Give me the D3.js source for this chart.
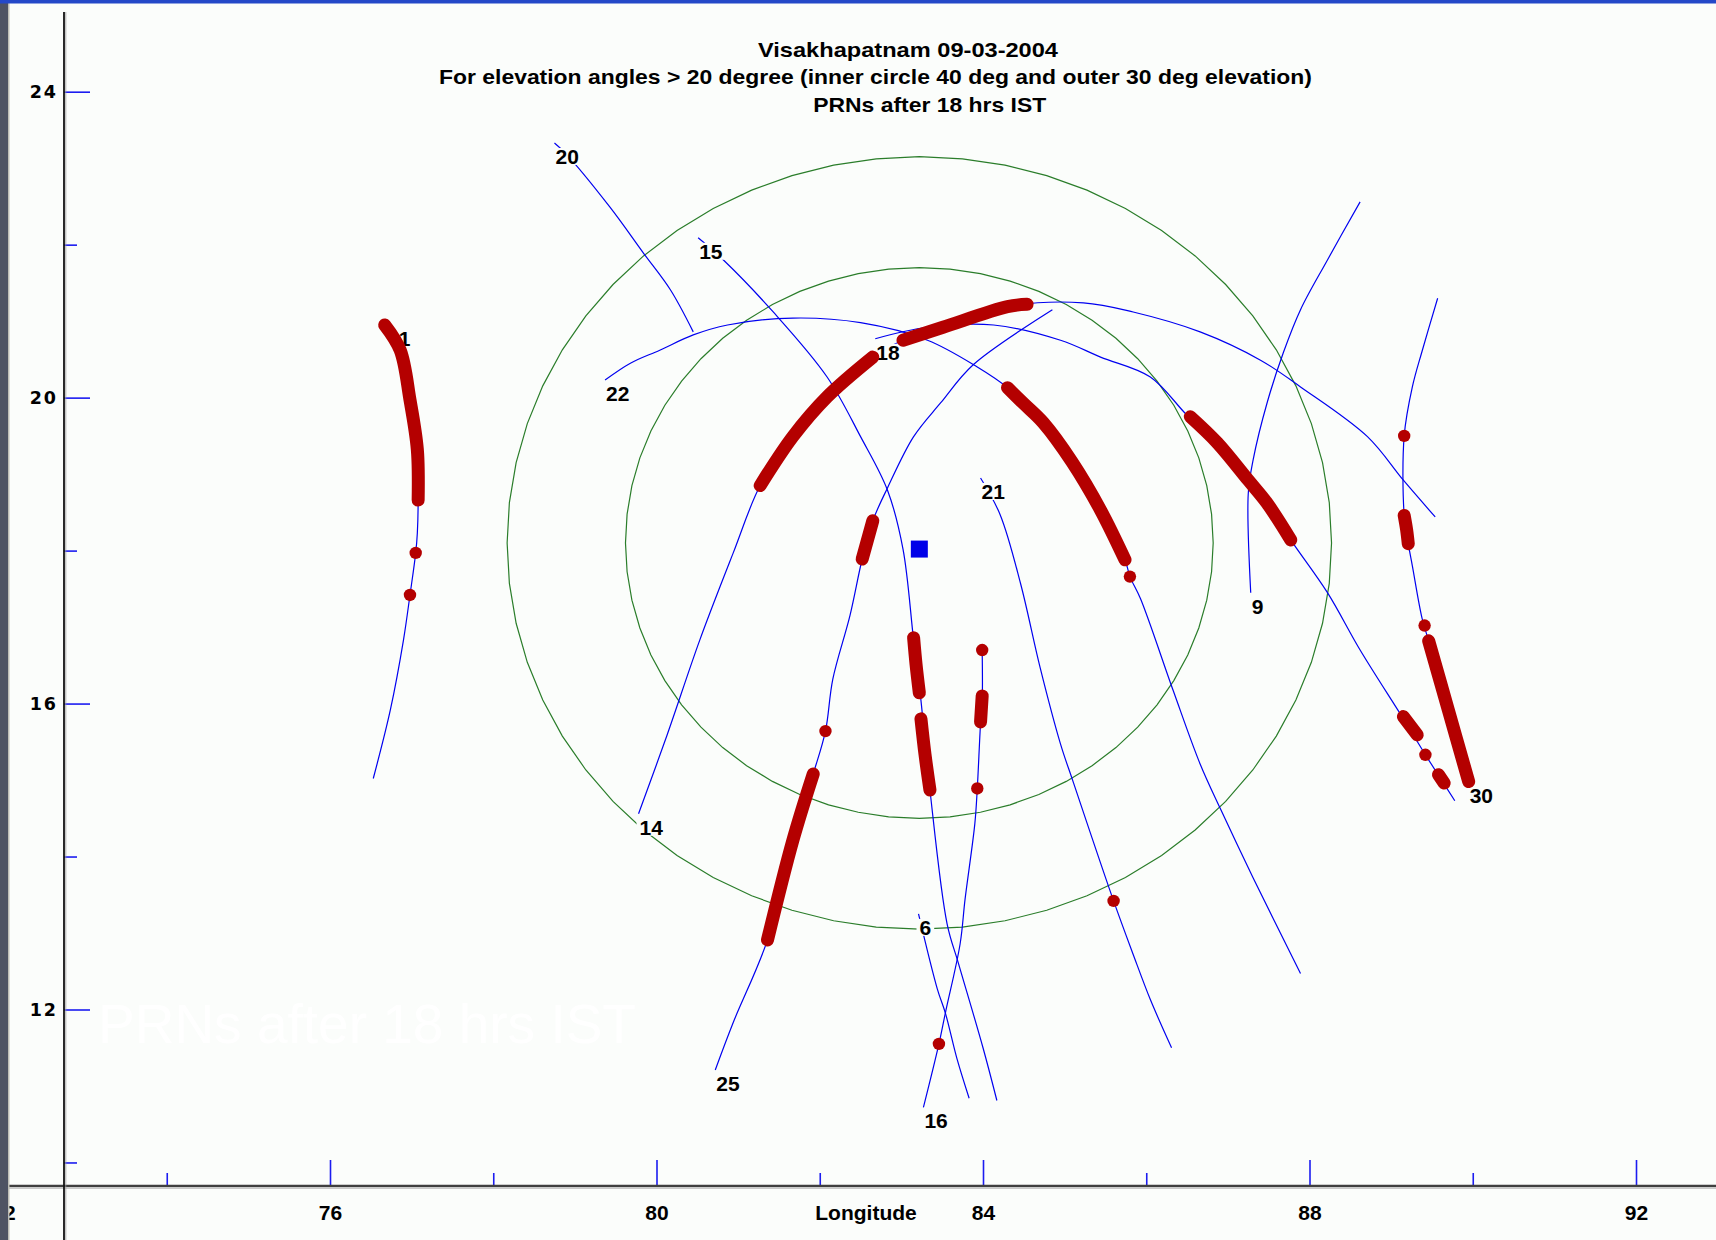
<!DOCTYPE html>
<html>
<head>
<meta charset="utf-8">
<script src="https://cdn.jsdelivr.net/npm/d3@7"></script>
<style>
  body { margin: 0; background: #fbfdfb; overflow: hidden; }
  svg { display: block; }
</style>
</head>
<body>
<svg id="chart" width="1716" height="1240"></svg>
<script>
// ---- axis ticks ----
var lonMajor = [72, 76, 80, 84, 88, 92];
var lonMinor = [74, 78, 82, 86, 90];
var latMajor = [12, 16, 20, 24];
var latMinor = [10, 14, 18, 22];

var titleLines = ["Visakhapatnam  09-03-2004",
  "For elevation angles > 20 degree (inner circle 40 deg and outer 30 deg elevation)",
  "PRNs after 18 hrs IST"];

// station and elevation circles (deg)
var station = [83.22, 18.02];
var circleCenter = [83.22, 18.1];
var circleRadii = [3.6, 5.05];

// ---- PRN tracks [lon, lat], first point is the labelled end ----
var track1 = [[76.67,20.95],[76.86,20.62],[76.98,19.97],[77.07,19.32],[77.08,18.66],[77.07,18.23],[77.05,17.97],[76.98,17.42],[76.90,16.83],[76.74,15.92],[76.53,15.02]];
var track20 = [[78.75,23.33],[78.88,23.20],[79.43,22.49],[79.84,21.89],[80.17,21.41],[80.45,20.86]];
var track15 = [[80.51,22.09],[80.82,21.80],[81.43,21.12],[82.09,20.27],[82.50,19.49],[82.83,18.79],[83.02,18.02],[83.15,16.83],[83.23,16.14],[83.35,14.87],[83.56,13.12],[83.70,12.60],[84.00,11.50],[84.17,10.81]];
var track22 = [[79.37,20.23],[79.68,20.45],[80.04,20.62],[80.45,20.82],[80.87,20.95],[81.67,21.04],[82.50,20.98],[83.32,20.75],[83.93,20.40],[84.30,20.13],[84.74,19.67],[85.09,19.16],[85.44,18.53],[85.74,17.88],[85.80,17.66],[85.93,17.37],[86.33,16.17],[86.66,15.21],[86.91,14.62],[87.31,13.72],[87.89,12.47]];
var track18 = [[82.68,20.77],[83.32,20.92],[84.13,20.95],[84.95,20.75],[85.44,20.53],[86.05,20.27],[86.50,19.77],[86.87,19.41],[87.25,18.92],[87.48,18.62],[87.77,18.14],[88.22,17.45],[88.62,16.70],[89.15,15.80],[89.42,15.33],[89.60,15.03],[89.78,14.73]];
var track14 = [[79.78,14.56],[80.13,15.59],[80.53,16.83],[80.94,17.97],[81.27,18.85],[81.67,19.49],[82.09,20.01],[82.65,20.53],[83.02,20.75],[83.51,20.92],[84.30,21.19],[85.23,21.24],[85.84,21.12],[86.66,20.86],[87.40,20.49],[87.89,20.14],[88.71,19.49],[89.15,18.92],[89.54,18.44]];
var track21 = [[83.97,18.95],[84.21,18.47],[84.46,17.57],[84.70,16.47],[84.95,15.47],[85.11,14.96],[85.60,13.42],[85.84,12.72],[86.05,12.13],[86.31,11.50]];
var track9 = [[87.28,17.45],[87.25,18.75],[87.31,19.19],[87.48,19.93],[87.68,20.59],[87.89,21.15],[88.22,21.80],[88.62,22.56]];
var track30 = [[89.95,14.98],[89.70,15.92],[89.46,16.82],[89.38,17.11],[89.26,17.80],[89.21,18.09],[89.16,18.46],[89.16,19.50],[89.26,20.14],[89.38,20.61],[89.57,21.30]];
var track6 = [[83.21,13.25],[83.44,12.27],[83.54,11.95],[83.68,11.36],[83.83,10.84]];
var track25 = [[80.72,11.21],[80.94,11.83],[81.36,12.91],[81.67,14.21],[81.92,15.08],[82.07,15.64],[82.16,16.32],[82.37,17.15],[82.52,17.89],[82.65,18.39],[82.83,18.82],[83.15,19.49],[83.48,19.93],[83.88,20.43],[84.85,21.15]];
var track16 = [[83.27,10.72],[83.46,11.55],[83.54,11.96],[83.72,12.86],[83.78,13.44],[83.90,14.43],[83.93,14.89],[83.97,15.74],[83.99,16.01],[83.99,16.70]];

// ---- observed (red) pieces of each track ----
var obs1 = [[[76.67,20.95],[76.86,20.62],[76.98,19.97],[77.07,19.32],[77.08,18.66]], [[77.05,17.97]], [[76.98,17.42]]];
var obs15 = [[[83.15,16.86],[83.18,16.51],[83.22,16.14]], [[83.24,15.80],[83.29,15.33],[83.35,14.87]]];
var obs22 = [[[84.30,20.13],[84.49,19.93],[84.74,19.67],[85.09,19.16],[85.44,18.53],[85.74,17.88]], [[85.80,17.66]]];
var obs18 = [[[86.54,19.75],[86.87,19.41],[87.25,18.92],[87.48,18.62],[87.77,18.14]], [[89.15,15.83],[89.32,15.59]], [[89.42,15.33]], [[89.58,15.07],[89.65,14.96]]];
var obs14 = [[[81.27,18.85],[81.67,19.49],[82.09,20.01],[82.65,20.53]], [[83.02,20.75],[83.51,20.92],[84.30,21.19],[84.54,21.22]]];
var obs21 = [[[85.60,13.42]]];
var obs30 = [[[89.95,14.98],[89.70,15.92],[89.46,16.82]], [[89.41,17.02]], [[89.16,18.46],[89.19,18.27],[89.21,18.09]], [[89.16,19.50]]];
var obs25 = [[[81.36,12.91],[81.67,14.21],[81.92,15.08]], [[82.07,15.64]], [[82.52,17.89],[82.65,18.39]]];
var obs16 = [[[83.46,11.55]], [[83.93,14.89]], [[83.97,15.76],[83.99,16.10]], [[83.99,16.70]]];

var tracks = [
  {prn: 1, pts: track1, obs: obs1},
  {prn: 20, pts: track20, obs: []},
  {prn: 15, pts: track15, obs: obs15},
  {prn: 22, pts: track22, obs: obs22},
  {prn: 18, pts: track18, obs: obs18},
  {prn: 14, pts: track14, obs: obs14},
  {prn: 21, pts: track21, obs: obs21},
  {prn: 9, pts: track9, obs: []},
  {prn: 30, pts: track30, obs: obs30},
  {prn: 6, pts: track6, obs: []},
  {prn: 25, pts: track25, obs: obs25},
  {prn: 16, pts: track16, obs: obs16}
];

var bg = "#fbfdfb";
var svg = d3.select("#chart");

var x = d3.scaleLinear().domain([76, 92]).range([330, 1636]);
var y = d3.scaleLinear().domain([12, 24]).range([1009.5, 91.7]);
var line = d3.line().x(function(d){ return x(d[0]); }).y(function(d){ return y(d[1]); });
var smooth = d3.line().x(function(d){ return x(d[0]); }).y(function(d){ return y(d[1]); })
  .curve(d3.curveCatmullRom.alpha(0.5));

svg.append("rect").attr("width", 1716).attr("height", 1240).attr("fill", bg);

// faint watermark
svg.append("text").attr("x", 98).attr("y", 1043)
  .attr("font-family", "Liberation Sans, Arial, sans-serif").attr("font-size", 55)
  .attr("fill", "#ffffff").text("PRNs after 18 hrs IST");

// title
var titleX = [908, 875.5, 929.7], titleW = [300, 873, 233];
titleLines.forEach(function(t, i){
  svg.append("text").attr("x", titleX[i]).attr("y", 57 + i * 27.3)
    .attr("text-anchor", "middle")
    .attr("font-family", "Liberation Sans, Arial, sans-serif")
    .attr("font-weight", "bold").attr("font-size", 21)
    .attr("textLength", titleW[i]).attr("lengthAdjust", "spacingAndGlyphs")
    .attr("fill", "#000").text(t);
});

// elevation circles
var angles = d3.range(0, 361, 6);
circleRadii.forEach(function(r){
  var ring = angles.map(function(a){
    var t = a * Math.PI / 180;
    return [circleCenter[0] + r * Math.cos(t), circleCenter[1] + r * Math.sin(t)];
  });
  svg.append("path").attr("d", line(ring)).attr("fill", "none")
    .attr("stroke", "#2a7d2a").attr("stroke-width", 1.2);
});

// blue tracks
svg.append("g").selectAll("path").data(tracks).enter().append("path")
  .attr("d", function(d){ return smooth(d.pts); })
  .attr("fill", "none").attr("stroke", "#0000f0").attr("stroke-width", 1.2);

// prn labels with an opaque box
var labels = svg.append("g");
tracks.forEach(function(d){
  var p = d.pts[0];
  var dx = d.prn === 1 ? 14 : 1;
  var g = labels.append("g");
  var t = g.append("text").attr("x", x(p[0]) + dx).attr("y", y(p[1]) + 21)
    .attr("font-family", "Liberation Sans, Arial, sans-serif")
    .attr("font-weight", "bold").attr("font-size", 21).attr("fill", "#000")
    .text(d.prn);
  var b = t.node().getBBox();
  g.insert("rect", "text").attr("x", b.x - 3).attr("y", b.y + 3)
    .attr("width", b.width + 6).attr("height", b.height - 6).attr("fill", bg);
});

// red observed pieces
var red = svg.append("g");
tracks.forEach(function(d){
  d.obs.forEach(function(seg){
    if (seg.length === 1) {
      red.append("circle").attr("cx", x(seg[0][0])).attr("cy", y(seg[0][1]))
        .attr("r", 6.2).attr("fill", "#b40000");
    } else {
      red.append("path").attr("d", smooth(seg)).attr("fill", "none")
        .attr("stroke", "#b40000").attr("stroke-width", 13)
        .attr("stroke-linecap", "round").attr("stroke-linejoin", "round");
    }
  });
});

// station
svg.append("rect").attr("x", x(station[0]) - 8.5).attr("y", y(station[1]) - 8.5)
  .attr("width", 17).attr("height", 17).attr("fill", "#0000e8");

// x axis
var xg = svg.append("g").attr("transform", "translate(0,1186)");
xg.call(d3.axisBottom(x).tickValues(lonMajor).tickSize(-26).tickPadding(19).tickFormat(d3.format("d")));
xg.append("g").call(d3.axisBottom(x).tickValues(lonMinor).tickSize(-13).tickFormat(""));
xg.selectAll(".domain").remove();
xg.selectAll(".tick line").attr("stroke", "#1c1cf0").attr("stroke-width", 1.6);
xg.selectAll(".tick text").attr("font-family", "Liberation Sans, Arial, sans-serif")
  .attr("font-weight", "bold").attr("font-size", 21).attr("fill", "#000");
svg.append("line").attr("x1", 9).attr("x2", 1716).attr("y1", 1186).attr("y2", 1186)
  .attr("stroke", "#3f3f3f").attr("stroke-width", 2.5);
svg.append("line").attr("x1", 9).attr("x2", 1716).attr("y1", 1188.5).attr("y2", 1188.5)
  .attr("stroke", "#c9c9c9").attr("stroke-width", 1);
svg.append("text").attr("x", 866).attr("y", 1220).attr("text-anchor", "middle")
  .attr("font-family", "Liberation Sans, Arial, sans-serif")
  .attr("font-weight", "bold").attr("font-size", 21).attr("fill", "#000").text("Longitude");

// y axis
var yg = svg.append("g").attr("transform", "translate(64,0)");
yg.call(d3.axisLeft(y).tickValues(latMajor).tickSize(-26).tickPadding(6).tickFormat(d3.format("d")));
yg.append("g").call(d3.axisLeft(y).tickValues(latMinor).tickSize(-13).tickFormat(""));
yg.selectAll(".domain").remove();
yg.selectAll(".tick line").attr("stroke", "#1c1cf0").attr("stroke-width", 1.6);
yg.selectAll(".tick text").attr("font-family", "DejaVu Sans, sans-serif")
  .attr("font-weight", "bold").attr("font-size", 17.5).attr("letter-spacing", 2).attr("fill", "#000");
svg.append("line").attr("x1", 64).attr("x2", 64).attr("y1", 12).attr("y2", 1240)
  .attr("stroke", "#111").attr("stroke-width", 1.8);
svg.append("line").attr("x1", 65.8).attr("x2", 65.8).attr("y1", 12).attr("y2", 1240)
  .attr("stroke", "#9a9a9a").attr("stroke-width", 0.8);

// window frame
svg.append("rect").attr("x", 0).attr("y", 0).attr("width", 8).attr("height", 1240).attr("fill", "#4e5363");
svg.append("rect").attr("x", 8).attr("y", 0).attr("width", 1.5).attr("height", 1240).attr("fill", "#bdbdb5");
svg.append("rect").attr("x", 0).attr("y", 0).attr("width", 1716).attr("height", 3.5).attr("fill", "#2448c8");
</script>
</body>
</html>
